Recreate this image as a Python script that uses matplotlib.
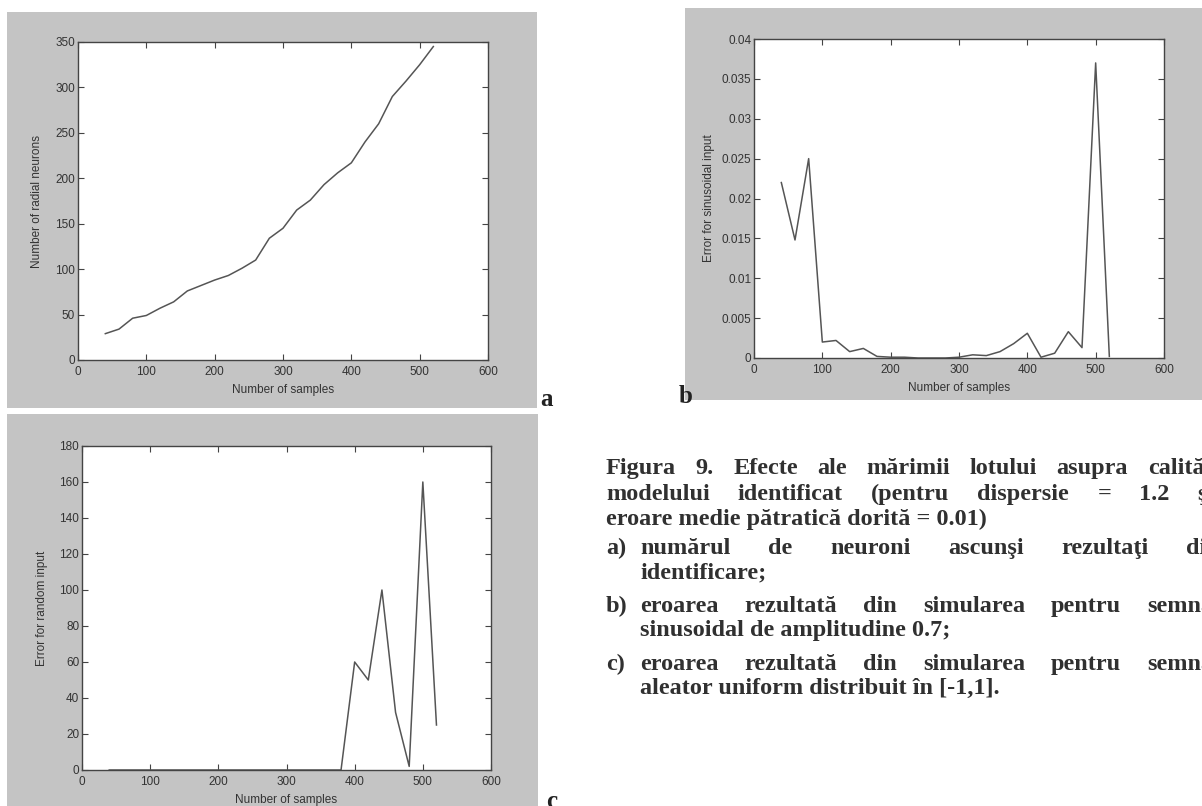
import matplotlib
matplotlib.use("Agg")
import matplotlib.pyplot as plt
from matplotlib.patches import Rectangle

# ---------------- data ----------------
samples = [40, 60, 80, 100, 120, 140, 160, 180, 200, 220, 240, 260, 280,
           300, 320, 340, 360, 380, 400, 420, 440, 460, 480, 500, 520]
radial_neurons = [29, 34, 46, 49, 57, 64, 76, 82, 88, 93, 101, 110, 134,
                  145, 165, 176, 193, 206, 217, 240, 260, 290, 307, 325, 345]
err_sin = [0.022, 0.0148, 0.025, 0.002, 0.0022, 0.0008, 0.0012, 0.0002,
           0.0001, 0.0001, 0.0, 0.0, 0.0, 0.0001, 0.0004, 0.0003, 0.0008,
           0.0018, 0.0031, 0.0001, 0.0006, 0.0033, 0.0013, 0.037, 0.0002]
err_rand = [0, 0, 0, 0, 0, 0, 0, 0, 0, 0, 0, 0, 0, 0, 0, 0, 0, 0,
            60, 50, 100, 32, 2, 160, 25]

xticks = [0, 100, 200, 300, 400, 500, 600]
yticks_a = [0, 50, 100, 150, 200, 250, 300, 350]
yticks_b = [0, 0.005, 0.01, 0.015, 0.02, 0.025, 0.03, 0.035, 0.04]
yticklabels_b = ["0", "0.005", "0.01", "0.015", "0.02", "0.025", "0.03", "0.035", "0.04"]
yticks_c = [0, 20, 40, 60, 80, 100, 120, 140, 160, 180]

xlabel = "Number of samples"
ylabel_a = "Number of radial neurons"
ylabel_b = "Error for sinusoidal input"
ylabel_c = "Error for random input"

caption_lines = [
    "Figura 9. Efecte ale mărimii lotului asupra calităţii",
    "modelului identificat (pentru dispersie = 1.2 şi",
    "eroare medie pătratică dorită = 0.01)",
]
items = [
    ("a)", ["numărul de neuroni ascunşi rezultaţi din", "identificare;"]),
    ("b)", ["eroarea rezultată din simularea pentru semnal", "sinusoidal de amplitudine 0.7;"]),
    ("c)", ["eroarea rezultată din simularea pentru semnal", "aleator uniform distribuit în [-1,1]."]),
]

# ---------------- layout helpers ----------------
W, H = 1202, 806
fig = plt.figure(figsize=(W / 100, H / 100), dpi=100)
fig.patch.set_facecolor("white")

bg = fig.add_axes([0, 0, 1, 1], zorder=-10)
bg.set_xlim(0, W)
bg.set_ylim(H, 0)
bg.axis("off")


def fx(x):
    return x / W


def fy(y):
    return 1 - y / H


def panel(x0, y0, x1, y1):
    bg.add_patch(Rectangle((x0, y0), x1 - x0, y1 - y0, facecolor="#c4c4c4",
                           edgecolor="none"))


TICKFONT = "Liberation Sans"
TXT = "#333333"
FS = 8.5


def make_axes(x0, y0, x1, y1):
    ax = fig.add_axes([fx(x0), fy(y1), fx(x1 - x0), (y1 - y0) / H])
    ax.set_facecolor("white")
    for s in ax.spines.values():
        s.set_color("#444444")
        s.set_linewidth(1.0)
    ax.tick_params(direction="in", top=True, right=True, length=4,
                   width=0.8, color="#444444", labelsize=FS,
                   labelcolor=TXT)
    ax.tick_params(axis="x", pad=4)
    ax.tick_params(axis="y", pad=2)
    return ax


LINE = dict(color="#555555", lw=1.1)

panel(7, 12, 537, 408)
panel(685, 8, 1202, 400)
panel(7, 414, 538, 806)

specs = [
    ((78, 42, 488, 360), radial_neurons, (0, 350), yticks_a, None, ylabel_a, 9),
    ((754, 39, 1164, 358), err_sin, (0, 0.04), yticks_b, yticklabels_b, ylabel_b, 5),
    ((82, 446, 491, 770), err_rand, (0, 180), yticks_c, None, ylabel_c, 8),
]
for box, vals, ylim, yt, ytl, ylab, ypad in specs:
    ax = make_axes(*box)
    ax.plot(samples, vals, **LINE)
    ax.set_xlim(0, 600)
    ax.set_ylim(*ylim)
    ax.set_xticks(xticks)
    ax.set_yticks(yt)
    if ytl is not None:
        ax.set_yticklabels(ytl)
    ax.set_xlabel(xlabel, fontsize=FS, color=TXT, family=TICKFONT, labelpad=5)
    ax.set_ylabel(ylab, fontsize=FS, color=TXT, family=TICKFONT, labelpad=ypad)
    for lab in ax.get_xticklabels() + ax.get_yticklabels():
        lab.set_family(TICKFONT)

# panel letters
LET = dict(fontsize=18, fontweight="bold", family="Liberation Serif",
           color="#222222", va="baseline", ha="left")
fig.text(fx(540), fy(406), "a", **LET)
fig.text(fx(679), fy(403), "b", **LET)
fig.text(fx(546), fy(808), "c", **LET)

# ---------------- caption ----------------
CAP = dict(fontsize=17.5, fontweight="bold", family="Liberation Serif",
           color="#303030", va="baseline", ha="left")
BASE = 6  # baseline offset below the line's visual centre (pixels)
renderer = fig.canvas.get_renderer()


def justify(text, x0, x1, y):
    words = text.split()
    arts = [fig.text(0, 0, w, **CAP) for w in words]
    widths = [a.get_window_extent(renderer).width for a in arts]
    gap = (x1 - x0 - sum(widths)) / max(len(words) - 1, 1)
    x = x0
    for a, w in zip(arts, widths):
        a.set_position((fx(x), fy(y + BASE)))
        x += w + gap


def line(text, x, y):
    fig.text(fx(x), fy(y + BASE), text, **CAP)


CX = 606
IX = 640
justify(caption_lines[0], CX, 1226, 468)
justify(caption_lines[1], CX, 1214, 494)
line(caption_lines[2], CX, 519)

item_y = [548, 606, 664]
for (mark, lines), y in zip(items, item_y):
    line(mark, CX, y)
    justify(lines[0], IX, 1220, y)
    line(lines[1], IX, y + 24)

fig.savefig("out.png", dpi=100)
